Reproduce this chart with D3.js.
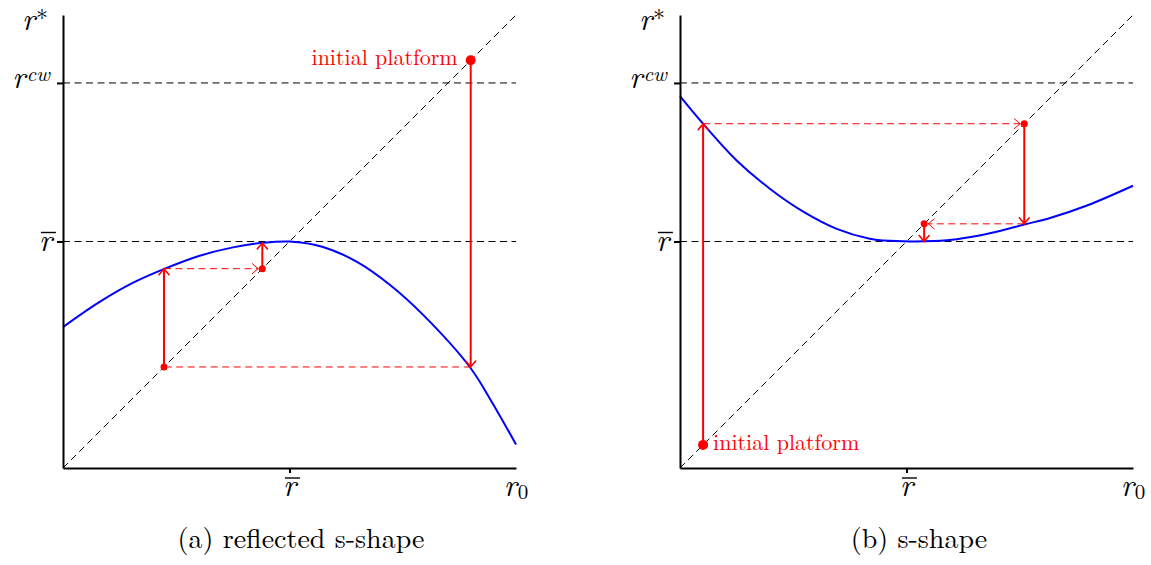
<!DOCTYPE html>
<html>
<head>
	<meta charset="utf-8">
	<title></title>
	<style type="text/css">
		body {
			margin: 0;
			background-color: #fff;
		}

		svg {
			display: block;
			background-color: #fff;
		}

		.guide {
			stroke: #000;
			stroke-width: 1;
			stroke-dasharray: 7,4.5;
			fill: none;
		}

		.axis path, .axis line {
			stroke: #000;
			stroke-width: 2;
		}
	</style>
	<script type="text/javascript" src="https://cdn.jsdelivr.net/npm/d3@7"></script>
</head>

<body>
	<div id="chart"></div>
	<script type="text/javascript">
		var width = 1151, height = 565, size = 453, bottom = 468;
		var serif = "'Latin Modern Roman', 'Liberation Serif', serif";

		// steady state and cw level, same in both panels
		var rBar = 0.5, rCw = 0.85;

		// (a) reflected s-shape
		var curveAx = [0, 0.08, 0.155, 0.225, 0.30, 0.375, 0.44, 0.5, 0.574, 0.649, 0.722, 0.795, 0.898, 0.943, 1.0];
		var curveAy = [0.311, 0.366, 0.409, 0.440, 0.468, 0.487, 0.497, 0.5, 0.488, 0.455, 0.404, 0.338, 0.223, 0.152, 0.052];

		// (b) s-shape
		var curveBx = [0, 0.051, 0.125, 0.199, 0.272, 0.346, 0.419, 0.45, 0.51, 0.56, 0.611, 0.684, 0.762, 0.817, 0.9, 1.0];
		var curveBy = [0.821, 0.760, 0.679, 0.616, 0.566, 0.528, 0.506, 0.502, 0.5, 0.501, 0.505, 0.518, 0.538, 0.552, 0.580, 0.623];

		// cobweb iterates, starting at the initial platform
		var cobwebA = [0.9, 0.223, 0.44, 0.497];
		var cobwebB = [0.051, 0.760, 0.539, 0.500];
		var headsA = [false, true];
		var headsB = [true, true];

		var captions = ['(a) reflected s-shape', '(b) s-shape'];
		var platformLabel = 'initial platform';

		var svg = d3.select('#chart')
			.append('svg')
			.attr('width', width)
			.attr('height', height);

		var defs = svg.append('defs');

		function addHead(id, w) {
			defs.append('marker')
				.attr('id', id)
				.attr('markerUnits', 'userSpaceOnUse')
				.attr('viewBox', '-10 -7 12 14')
				.attr('markerWidth', 12)
				.attr('markerHeight', 14)
				.attr('refX', 0)
				.attr('refY', 0)
				.attr('orient', 'auto')
				.append('path')
				.attr('d', 'M-6,-5 Q-1.5,-1 0,0 Q-1.5,1 -6,5')
				.attr('fill', 'none')
				.attr('stroke', '#f00')
				.attr('stroke-width', w)
				.attr('stroke-linecap', 'round');
		}
		addHead('headSolid', 1.6);
		addHead('headDash', 1);

		var panels = [
			{ left: 63, cx: curveAx, cy: curveAy, cob: cobwebA, heads: headsA, caption: captions[0], capX: 301, labelLeft: true },
			{ left: 680, cx: curveBx, cy: curveBy, cob: cobwebB, heads: headsB, caption: captions[1], capX: 919, labelLeft: false }
		];

		function mathLabel(g, x, y, anchor, base, opts) {
			var t = g.append('text')
				.attr('x', x)
				.attr('y', y)
				.attr('text-anchor', anchor)
				.style('font-family', serif)
				.style('font-style', 'italic')
				.style('font-size', '31px')
				.attr('fill', '#000');
			t.append('tspan').text(base);
			if (opts.sup) {
				var star = opts.sup == '*';
				t.append('tspan')
					.attr('dx', 1)
					.attr('dy', star ? -3 : -7)
					.style('font-size', star ? '24px' : '21px')
					.style('font-style', star ? 'normal' : 'italic')
					.text(opts.sup);
			}
			if (opts.sub) {
				t.append('tspan')
					.attr('dx', 1)
					.attr('dy', 3)
					.style('font-size', '21px')
					.style('font-style', 'normal')
					.text(opts.sub);
			}
			if (opts.bar) {
				var b = t.node().getBBox();
				g.append('line')
					.attr('x1', b.x + 2).attr('x2', b.x + b.width + 1)
					.attr('y1', y - 18).attr('y2', y - 18)
					.attr('stroke', '#000')
					.attr('stroke-width', 1.4);
			}
		}

		panels.forEach(function(p) {
			var x = d3.scaleLinear().domain([0, 1]).range([p.left, p.left + size]);
			var y = d3.scaleLinear().domain([0, 1]).range([bottom, bottom - size]);
			var g = svg.append('g');

			// dashed guides: r^cw, r bar and the 45 degree line
			[rCw, rBar].forEach(function(v) {
				g.append('line')
					.attr('class', 'guide')
					.attr('x1', x(0)).attr('x2', x(1))
					.attr('y1', y(v)).attr('y2', y(v));
			});
			g.append('line')
				.attr('class', 'guide')
				.attr('x1', x(0)).attr('y1', y(0))
				.attr('x2', x(1)).attr('y2', y(1));

			// the map
			var pts = p.cx.map(function(d, i) { return [d, p.cy[i]]; });
			g.append('path')
				.datum(pts)
				.attr('fill', 'none')
				.attr('stroke', '#00f')
				.attr('stroke-width', 2)
				.attr('d', d3.line()
					.x(function(d) { return x(d[0]); })
					.y(function(d) { return y(d[1]); })
					.curve(d3.curveCatmullRom.alpha(0.5)));

			// cobweb
			var c = p.cob;
			for (var i = 0; i < c.length - 1; i++) {
				g.append('line')
					.attr('x1', x(c[i])).attr('x2', x(c[i]))
					.attr('y1', y(c[i])).attr('y2', y(c[i + 1]))
					.attr('stroke', '#f00')
					.attr('stroke-width', 2)
					.attr('marker-end', 'url(#headSolid)');
				if (i < c.length - 2) {
					var dir = c[i + 1] > c[i] ? 1 : -1;
					var h = g.append('line')
						.attr('x1', x(c[i]))
						.attr('x2', x(c[i + 1]) - dir * 4)
						.attr('y1', y(c[i + 1])).attr('y2', y(c[i + 1]))
						.attr('stroke', '#f00')
						.attr('stroke-width', 1)
						.attr('stroke-dasharray', '7,4.5');
					if (p.heads[i]) h.attr('marker-end', 'url(#headDash)');
				}
			}
			c.slice(0, c.length - 1).forEach(function(v, i) {
				g.append('circle')
					.attr('cx', x(v)).attr('cy', y(v))
					.attr('r', i == 0 ? 5 : 3.5)
					.attr('fill', '#f00');
			});

			g.append('text')
				.attr('x', p.labelLeft ? x(c[0]) - 13 : x(c[0]) + 10)
				.attr('y', y(c[0]) + 5)
				.attr('text-anchor', p.labelLeft ? 'end' : 'start')
				.style('font-family', serif)
				.style('font-size', '22px')
				.attr('fill', '#f00')
				.text(platformLabel);

			// axes
			g.append('g')
				.attr('class', 'axis')
				.attr('transform', 'translate(' + x(0) + ',0)')
				.call(d3.axisLeft(y).tickValues([rBar, rCw]).tickSize(6).tickSizeOuter(0).tickFormat(''));
			g.append('g')
				.attr('class', 'axis')
				.attr('transform', 'translate(0,' + y(0) + ')')
				.call(d3.axisBottom(x).tickValues([rBar]).tickSize(5).tickSizeOuter(0).tickFormat(''));

			// labels
			mathLabel(g, x(0) - 15, y(1) + 15, 'end', 'r', { sup: '*' });
			mathLabel(g, x(0) - 13, y(rCw) + 5, 'end', 'r', { sup: 'cw' });
			mathLabel(g, x(0) - 11, y(rBar) + 9, 'end', 'r', { bar: true });
			mathLabel(g, x(rBar), bottom + 28, 'middle', 'r', { bar: true });
			mathLabel(g, x(1), bottom + 28, 'middle', 'r', { sub: '0' });

			g.append('text')
				.attr('x', p.capX)
				.attr('y', 548)
				.attr('text-anchor', 'middle')
				.style('font-family', serif)
				.style('font-size', '28px')
				.attr('fill', '#000')
				.text(p.caption);
		});
	</script>
</body>
</html>
